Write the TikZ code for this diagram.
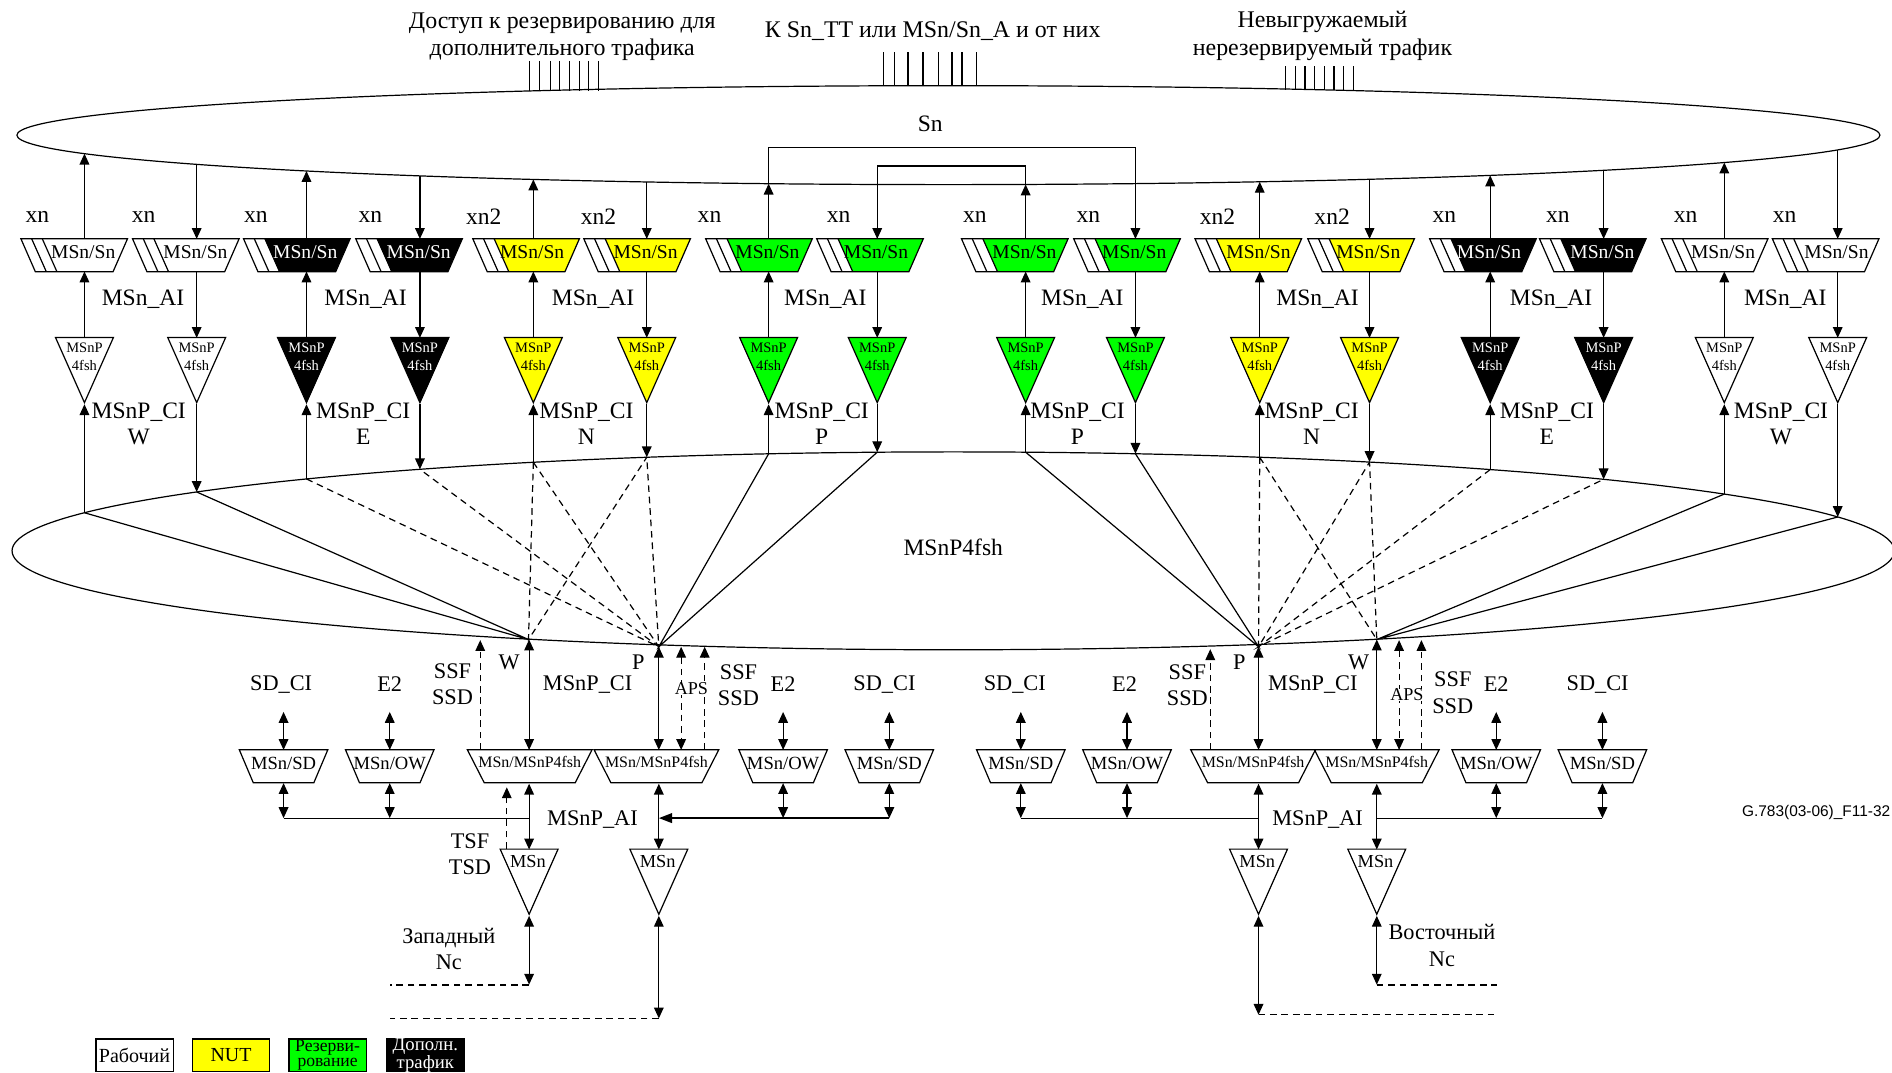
\documentclass[tikz,border=0pt]{standalone}
\usepackage{fontspec}
\setmainfont{Liberation Serif}
\newfontfamily\tagfont{Liberation Sans}
\usetikzlibrary{arrows.meta,positioning,shapes.geometric,calc}
\definecolor{nutyellow}{HTML}{FFFF00}
\definecolor{protgreen}{HTML}{00FF00}
\newcommand{\trapline}[2]{\draw[line] (#1.north west) -- (#1.north east) -- ([xshift=-#2]#1.south east) -- ([xshift=#2]#1.south west) -- cycle;}
\tikzset{
  lbl/.style={font=\fontsize{19.5}{21.5}\selectfont,align=center,inner sep=0pt},
  lowlbl/.style={font=\fontsize{18.5}{22}\selectfont,align=center,inner sep=0pt},
  toplbl/.style={font=\fontsize{19.8}{23}\selectfont,align=center,inner sep=0pt},
  trilbl/.style={font=\fontsize{12}{14.5}\selectfont,align=center,inner sep=0pt},
  line/.style={draw=black,line width=1pt},
  arr/.style={line,-{Triangle[length=9pt,width=8pt]}},
  darr/.style={line,{Triangle[length=9pt,width=8pt]}-{Triangle[length=9pt,width=8pt]}},
  dash5/.style={dash pattern=on 5.5pt off 4pt},
  bigell/.style={ellipse,draw,line width=1pt,inner sep=0pt},
  snbox/.style={inner sep=0pt,minimum width=88pt,minimum height=27pt,font=\fontsize{16.2}{18}\selectfont},
  muxbox/.style={snbox,minimum width=73pt,font=\fontsize{15.4}{18}\selectfont},
  protbox/.style={snbox,minimum width=103pt,font=\fontsize{13.2}{18}\selectfont},
  tribox/.style={isosceles triangle,isosceles triangle stretches=true,shape border rotate=270,
    draw,line width=1pt,inner sep=0pt,minimum width=48pt,minimum height=54pt,anchor=apex},
  keybox/.style={draw,line width=1pt,inner sep=0pt,minimum width=64pt,minimum height=27pt},
  keylbl/.style={inner sep=0pt,align=center},
}
\begin{document}
\begin{tikzpicture}[x=1pt,y=-1pt]
  \useasboundingbox (0,0) rectangle (1568,889);
  \node[bigell,minimum width=1544pt,minimum height=82pt] (sn) at (786,112) {};
  \node[bigell,minimum width=1560pt,minimum height=164pt] (fsh) at (790,456.5) {};
  \node[lbl] (snt) at (771,103) {Sn};
  \node[lbl] (fsht) at (790,454) {MSnP4fsh};
  % top access text and the tributary ticks
  \node[toplbl] (acc) at (466,30.5) {Доступ к резервированию для\\дополнительного трафика};
  \node[toplbl] (tt) at (773,26) {К Sn\_TT или MSn/Sn\_A и от них};
  \node[toplbl] (nut) at (1096,29.5) {Невыгружаемый\\нерезервируемый трафик};
  \foreach \x [count=\k] in {439,447,456,464,472,480,488,496}
    \draw[line] (\x,50.5) -- (\x,75.5);
  \foreach \x [count=\k] in {732.5,741,752.5,765,777.5,789,797.3,809}
    \draw[line] (\x,43.5) -- (\x,71);
  \foreach \x [count=\k] in {1065.5,1073.5,1081.5,1089.5,1097.5,1105.5,1113.5,1121.5}
    \draw[line] (\x,55) -- (\x,75);
  % the sixteen columns
  \foreach \i/\x/\l/\fc/\tc in {1/70/17.5/white/black,2/163/110/white/black,3/254/202/black/white,4/348/295/black/white,
    5/442/392/nutyellow/black,6/536/484/nutyellow/black,7/637/585/protgreen/black,8/727/677/protgreen/black,
    9/850/797/protgreen/black,10/941/890/protgreen/black,11/1044/990.5/nutyellow/black,12/1135/1084/nutyellow/black,
    13/1235/1185/black/white,14/1329/1276/black/white,15/1429/1377/white/black,16/1523/1469/white/black}{
    \pgfmathsetmacro{\ya}{112+41*sqrt(1-((\x-786)/772)^2)}
    \pgfmathsetmacro{\yb}{456.5-82*sqrt(1-((\x-790)/780)^2)}
    \coordinate (e\i) at (\x,\ya);
    \coordinate (a\i) at (\x,198);
    \coordinate (b\i) at (\x,225);
    \coordinate (c\i) at (\x,280);
    \coordinate (d\i) at (\x,335);
    \coordinate (f\i) at (\x,\yb);
    \fill[\fc] (\l+17.6,198) -- (\l+88,198) -- (\l+76,225) -- (\l+29.6,225) -- cycle;
    \node[snbox,text=\tc] (ss\i) at (\l+44,211.5) {};
    \trapline{ss\i}{12pt}
    \draw[line] (\l+8.8,198) -- (\l+20.8,225) (\l+17.6,198) -- (\l+29.6,225);
    \node[snbox,text=\tc,minimum width=0pt,minimum height=0pt] (sst\i) at (\x-1,209) {MSn/Sn};
    \node[tribox,fill=\fc] (tr\i) at (d\i) {};
    \node[trilbl,text=\tc] (trt\i) at (\x,295.5) {MSnP\\4fsh};
  }
  \foreach \i in {1,3,5,7,9,11,13,15}{
    \draw[arr] (f\i) -- (d\i);
    \draw[arr] (c\i) -- (b\i);
    \draw[arr] (a\i) -- (e\i);
  }
  \foreach \i in {2,4,6,8,10,12,14,16}{
    \draw[arr] (e\i) -- (a\i);
    \draw[arr] (b\i) -- (c\i);
    \draw[arr] (d\i) -- (f\i);
  }
  \draw[line] (e7) -- (637,122) -- (941,122) -- (e10);
  \draw[line] (e9) -- (850,137.5) -- (727,137.5) -- (e8);
  \foreach \x/\t [count=\k] in {31/xn,119/xn,212/xn,307/xn,401/xn2,496/xn2,588/xn,695/xn,808/xn,902/xn,1009/xn2,1104/xn2,1197/xn,1291/xn,1397/xn,1479/xn}
    \node[lbl] (xl\k) at (\x,179.5) {\t};
  \foreach \x [count=\k] in {118.5,303,491.5,684,897,1092,1285.5,1479.5}
    \node[lbl] (ai\k) at (\x,248) {MSn\_AI};
  \foreach \x/\t [count=\k] in {115/W,301/E,486/N,681/P,893/P,1087/N,1282/E,1476/W}
    \node[lbl] (ci\k) at (\x,351.5) {MSnP\_CI\\\t};
  % the fans inside MSnP4fsh
  \coordinate (wl) at (438,530);
  \coordinate (pl) at (546,536);
  \coordinate (pr) at (1043,536);
  \coordinate (wr) at (1141,530);
  \draw[line] (f1) -- (wl) -- (f2) (f7) -- (pl) -- (f8) (f9) -- (pr) -- (f10) (f15) -- (wr) -- (f16);
  \draw[line,dash5] (f3) -- (pl) -- (f4) (f5) -- (pl) -- (f6) (f5) -- (wl) -- (f6);
  \draw[line,dash5] (f11) -- (pr) -- (f12) (f13) -- (pr) -- (f14) (f11) -- (wr) -- (f12);
  % protection blocks
  \foreach \n/\x in {1/439,2/544,3/1038.5,4/1141}{
    \node[protbox] (pb\n) at (\x,635) {};
    \trapline{pb\n}{14pt}
    \node[protbox,minimum width=0pt,minimum height=0pt] (pbt\n) at (\x,631.5) {MSn/MSnP4fsh};
  }
  \foreach \x/\t [count=\k] in {235/{MSn/SD},323/{MSn/OW},649/{MSn/OW},737/{MSn/SD},846/{MSn/SD},934/{MSn/OW},1240/{MSn/OW},1328/{MSn/SD}}{
    \node[muxbox] (mx\k) at (\x,635) {};
    \trapline{mx\k}{11.6pt}
    \node[muxbox,minimum width=0pt,minimum height=0pt] (mxt\k) at (\x,633) {\t};
    \coordinate (mt\k) at (\x,590);
    \coordinate (mu\k) at (\x,621.5);
    \coordinate (mv\k) at (\x,649);
    \coordinate (mb\k) at (\x,678);
    \draw[darr] (mt\k) -- (mu\k);
    \draw[darr] (mv\k) -- (mb\k);
  }
  \foreach \n/\x/\tp/\xe/\ye/\th in {1/438.5/530/323/816/1.5pt,2/546/536/323/844/1pt,3/1043/536/1241/841/1pt,4/1141/530/1241/816/1.5pt}{
    \coordinate (q\n) at (\x,\tp);
    \coordinate (r\n) at (\x,621.5);
    \coordinate (s\n) at (\x,649.5);
    \coordinate (t\n) at (\x,704);
    \coordinate (u\n) at (\x,759);
    \coordinate (v\n) at (\x,\ye);
    \coordinate (w\n) at (\xe,\ye);
    \draw[darr] (q\n) -- (r\n);
    \draw[darr] (s\n) -- (t\n);
    \node[tribox] (ms\n) at (u\n) {};
    \node[lowlbl,font=\fontsize{15.2}{18}\selectfont] (mst\n) at (\x-1,714) {MSn};
    \draw[darr] (u\n) -- (v\n);
    \draw[line,dash5,line width=\th] (v\n) -- (w\n);
  }
  % status lines
  \foreach \x/\ya/\yb in {398/530.5/621.5,584/536/621.5,1003/538/621.5,1178/530.5/621.5}
    \draw[arr,dash5] (\x,\yb) -- (\x,\ya);
  \foreach \x/\ya in {564.5/536,1159.5/530.5}
    \draw[darr,dash5] (\x,\ya) -- (\x,621.5);
  \draw[arr,dash5] (420,703.5) -- (420,652.5);
  % adapted information buses
  \draw[line] (mb1) -- (r1|-mb1);
  \draw[line,line width=1.6pt,-{Triangle[length=11pt,width=8pt]}] (mb4) -- (r2|-mb4);
  \draw[line] (mb5) -- (r3|-mb5);
  \draw[line] (r4|-mb8) -- (mb8);
  \foreach \x/\t [count=\k] in {491/{MSnP\_AI},1092/{MSnP\_AI},233/{SD\_CI},323/E2,649/E2,733/{SD\_CI},841/{SD\_CI},932/E2,1240/E2,1324/{SD\_CI},487/{MSnP\_CI},1088/{MSnP\_CI}}{
    \pgfmathsetmacro{\yl}{ifthenelse(\k<3,679.5,567)}
    \node[lowlbl] (tx\k) at (\x,\yl) {\t};
  }
  \foreach \x/\y/\t [count=\k] in {375/567/{SSF\\SSD},612/568/{SSF\\SSD},984/568/{SSF\\SSD},1204/574/{SSF\\SSD},389.5/708/{TSF\\TSD},372/786.5/{Западный\\Nc},1195/783.5/{Восточный\\Nc},422/549/W,529/549/P,1027/549/P,1126/549/W}
    \node[lowlbl] (st\k) at (\x,\y) {\t};
  \node[trilbl,font=\fontsize{15}{16}\selectfont,fill=white] (aps1) at (573,571) {APS};
  \node[trilbl,font=\fontsize{15}{16}\selectfont,fill=white] (aps2) at (1166,576) {APS};
  % legend
  \node[keybox] (k1) at (111.5,874.5) {};
  \node[keybox,fill=nutyellow] (k2) at (191.5,874.5) {};
  \node[keybox,fill=protgreen] (k3) at (271.5,874.5) {};
  \node[keybox,fill=black] (k4) at (352.5,874.5) {};
  \node[keylbl,font=\fontsize{16.6}{18}\selectfont] (kt1) at (k1) {Рабочий};
  \node[keylbl,font=\fontsize{16.5}{18}\selectfont] (kt2) at (k2) {NUT};
  \node[keylbl,font=\fontsize{14.6}{13}\selectfont] (kt3) at (k3) {Резерви-\\рование};
  \node[keylbl,text=white,font=\fontsize{15.5}{14}\selectfont] (kt4) at (k4) {Дополн.\\трафик};
  \node[anchor=west,inner sep=0pt,font=\tagfont\fontsize{12.8}{15}\selectfont] (tag) at (1443.5,673) {G.783(03-06)\_F11-32};
\end{tikzpicture}
\end{document}
